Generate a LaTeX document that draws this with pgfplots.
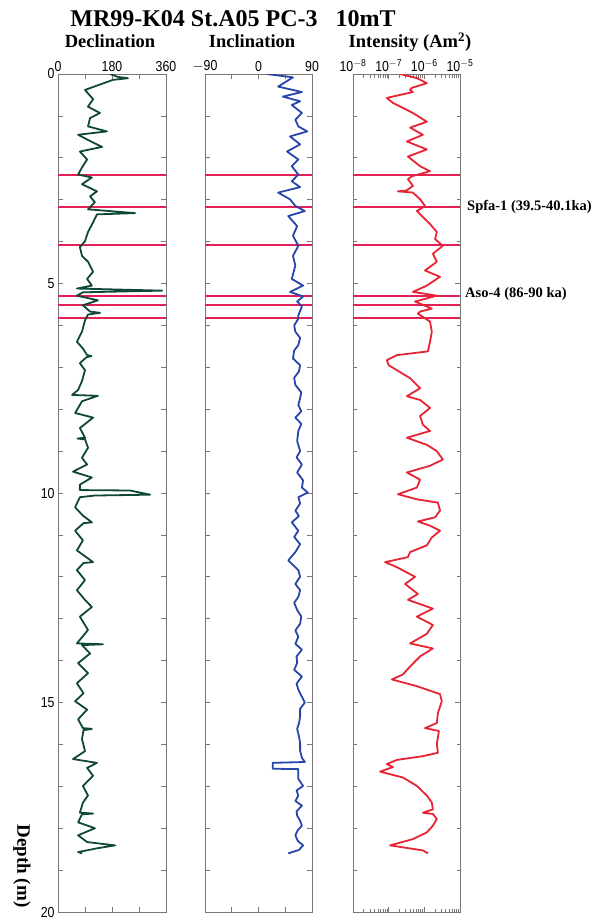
\documentclass[border=0pt]{standalone}
\usepackage{pgfplots}
\pgfplotsset{compat=1.18}
\usepackage{fontspec}
\setmainfont{Liberation Serif}
\newfontfamily\condsans[FakeStretch=0.85]{Liberation Sans}
\definecolor{decl}{RGB}{16,72,56}
\definecolor{incl}{RGB}{40,70,170}
\definecolor{inten}{RGB}{232,36,52}
\definecolor{tephra}{RGB}{228,32,84}
\definecolor{frame}{RGB}{120,120,120}

\pgfplotstableread{
d v
0.00 173
0.07 200
0.10 233
0.14 183
0.38 90
0.60 117
0.78 100
0.93 140
1.05 107
1.25 100
1.37 163
1.45 67
1.60 107
1.74 147
1.85 73
2.04 97
2.23 80
2.40 67
2.47 113
2.63 80
2.80 130
2.92 107
3.06 123
3.23 100
3.32 257
3.35 130
3.54 117
3.77 100
3.99 90
4.13 73
4.34 80
4.48 100
4.72 117
4.89 97
5.05 113
5.12 63
5.17 347
5.21 83
5.29 63
5.40 133
5.52 83
5.67 107
5.70 140
5.74 100
5.88 90
6.15 80
6.39 63
6.55 83
6.71 97
6.73 112
6.76 95
6.90 73
7.07 90
7.33 80
7.54 67
7.66 47
7.68 133
7.81 80
7.97 67
8.09 57
8.20 117
8.45 73
8.68 90
8.70 65
8.72 90
8.92 100
9.16 80
9.32 97
9.49 50
9.63 113
9.80 73
9.93 73
9.94 240
10.04 307
10.06 123
10.10 73
10.34 57
10.54 83
10.70 113
10.72 85
10.90 57
11.13 83
11.37 63
11.65 117
11.67 85
11.84 63
12.08 90
12.32 63
12.55 90
12.72 113
12.95 73
13.27 100
13.59 63
13.61 150
13.63 80
13.83 107
14.06 67
14.30 100
14.54 63
14.78 85
14.97 57
15.17 97
15.40 67
15.61 83
15.63 113
15.66 85
15.87 80
16.16 90
16.35 50
16.44 130
16.56 97
16.75 117
16.99 83
17.22 100
17.39 83
17.63 73
17.65 117
17.67 80
17.86 67
18.00 123
18.17 67
18.33 97
18.41 190
18.48 130
18.57 67
18.60 80
}\decltable

\pgfplotstableread{
d v
0.00 14
0.08 58
0.30 33
0.43 73
0.54 41
0.65 70
0.74 56
0.93 73
1.09 62
1.25 67
1.37 82
1.49 53
1.68 70
1.85 48
2.04 67
2.20 56
2.40 67
2.56 56
2.70 70
2.83 33
2.99 53
3.15 62
3.27 78
3.39 50
3.63 65
3.86 58
4.10 67
4.34 58
4.57 62
4.89 56
5.05 75
5.20 53
5.31 75
5.43 65
5.55 73
5.76 67
5.84 67
6.00 60
6.15 62
6.30 70
6.47 67
6.60 60
6.79 58
6.95 70
7.10 68
7.25 60
7.42 62
7.60 72
7.73 70
7.90 67
8.05 72
8.20 62
8.35 72
8.52 67
8.76 65
9.00 70
9.15 64
9.32 73
9.51 65
9.70 75
9.87 73
9.99 83
10.10 67
10.25 70
10.42 62
10.55 68
10.70 56
10.90 67
11.05 60
11.22 70
11.41 62
11.61 50
11.84 67
12.00 70
12.17 62
12.32 70
12.48 67
12.62 60
12.79 65
12.95 72
13.12 70
13.28 62
13.43 67
13.60 62
13.74 73
13.90 64
14.06 65
14.22 60
14.38 73
14.55 64
14.69 67
14.78 70
15.00 78
15.15 70
15.33 70
15.50 68
15.63 65
15.80 68
15.97 70
16.15 70
16.32 73
16.42 78
16.44 24
16.58 24
16.59 67
16.82 67
16.99 75
17.10 64
17.22 67
17.35 62
17.46 73
17.60 64
17.70 65
17.82 70
17.94 73
18.05 66
18.17 62
18.30 66
18.41 75
18.52 68
18.60 50
}\incltable

\pgfplotstableread{
d v
0.00 -6.68
0.10 -6.20
0.22 -5.93
0.33 -6.35
0.38 -6.40
0.43 -6.32
0.57 -7.05
0.69 -6.88
0.93 -6.32
1.14 -5.93
1.28 -6.40
1.45 -6.04
1.61 -6.49
1.80 -5.93
1.97 -6.46
2.20 -6.12
2.32 -5.84
2.44 -6.35
2.51 -6.46
2.67 -6.32
2.78 -6.50
2.80 -6.74
2.83 -6.32
2.99 -6.12
3.15 -5.98
3.27 -6.21
3.39 -6.07
3.58 -5.84
3.77 -5.65
3.94 -5.70
4.10 -5.48
4.29 -5.76
4.48 -5.65
4.69 -5.98
4.84 -5.56
5.05 -5.93
5.20 -6.32
5.29 -5.65
5.43 -6.26
5.60 -5.79
5.67 -6.12
5.72 -6.18
5.91 -5.84
6.15 -5.79
6.39 -5.84
6.62 -5.90
6.71 -6.77
6.83 -7.05
6.95 -7.00
7.26 -6.40
7.50 -6.12
7.69 -6.49
7.78 -6.12
7.97 -5.84
8.16 -6.12
8.37 -6.04
8.52 -5.84
8.68 -6.49
8.85 -5.93
9.00 -5.65
9.20 -5.48
9.35 -5.84
9.51 -6.49
9.68 -6.12
9.87 -6.21
10.03 -6.74
10.15 -6.21
10.23 -5.62
10.42 -5.56
10.58 -5.70
10.68 -6.18
10.78 -5.84
10.90 -5.56
11.06 -5.79
11.25 -5.93
11.41 -6.40
11.53 -6.46
11.65 -7.10
11.77 -6.77
12.00 -6.26
12.17 -6.54
12.41 -6.18
12.55 -6.46
12.76 -5.76
12.95 -6.21
13.15 -5.76
13.36 -5.93
13.59 -6.40
13.71 -5.76
13.90 -6.12
14.14 -6.40
14.33 -6.60
14.45 -6.91
14.61 -6.21
14.80 -5.56
14.97 -5.51
15.25 -5.62
15.49 -5.65
15.61 -5.98
15.68 -5.59
15.99 -5.65
16.20 -5.62
16.28 -6.04
16.37 -6.77
16.47 -7.05
16.54 -6.88
16.65 -7.24
16.79 -6.60
16.99 -6.21
17.22 -5.93
17.39 -5.79
17.55 -5.76
17.63 -6.04
17.66 -5.76
17.78 -5.65
17.94 -5.76
18.10 -5.93
18.26 -6.32
18.41 -6.96
18.53 -6.04
18.60 -5.90
}\intentable

\pgfplotsset{
  core/.style={
    scale only axis, height=838pt, ymin=0, ymax=20, y dir=reverse,
    axis line style={frame, line width=0.9pt},
    every tick/.style={frame, line width=0.8pt},
    major tick length=5pt, minor tick length=5pt,
    xtick pos=both, ytick pos=both, xticklabel pos=right,
    ytick={0,5,10,15,20},
    minor ytick={1,2,3,4,6,7,8,9,11,12,13,14,16,17,18,19},
    yticklabels={},
    tick label style={font=\condsans\fontsize{14.5}{14.5}\selectfont},
    xticklabel style={yshift=-1.5pt},
  },
  curve/.style={line width=1.8pt, line join=round, no marks},
}

\newcommand{\tephralines}[2]{%
  \addplot[tephra, line width=2pt, no marks] coordinates {(#1,2.42) (#2,2.42)};
  \addplot[tephra, line width=2pt, no marks] coordinates {(#1,3.17) (#2,3.17)};
  \addplot[tephra, line width=2pt, no marks] coordinates {(#1,4.07) (#2,4.07)};
  \addplot[tephra, line width=2pt, no marks] coordinates {(#1,5.31) (#2,5.31)};
  \addplot[tephra, line width=2pt, no marks] coordinates {(#1,5.52) (#2,5.52)};
  \addplot[tephra, line width=2pt, no marks] coordinates {(#1,5.82) (#2,5.82)};
}

\begin{document}
\begin{tikzpicture}[x=1pt,y=1pt]
\useasboundingbox (0,0) rectangle (605,922);

% Declination
\begin{axis}[core, at={(58pt,10pt)}, anchor=south west, width=108pt,
  xmin=0, xmax=360, xtick={0,180,360}, xticklabels={0,180,360},
  minor xtick={90,270},
  yticklabels={0,5,10,15,20}]
\tephralines{0}{360}
\addplot[curve, decl] table[x=v, y=d] {\decltable};
\end{axis}

% Inclination
\begin{axis}[core, at={(205pt,10pt)}, anchor=south west, width=107pt,
  xmin=-90, xmax=90, xtick={-90,0,90}, xticklabels={$-$90,0,90},
  minor xtick={-45,45}]
\tephralines{-90}{90}
\addplot[curve, incl] table[x=v, y=d] {\incltable};
\end{axis}

% Intensity (log10 of Am^2)
\begin{axis}[core, at={(353pt,10pt)}, anchor=south west, width=107pt,
  xmin=-8, xmax=-5, xtick={-8,-7,-6,-5},
  xticklabels={10\textsuperscript{$-$8},10\textsuperscript{$-$7},10\textsuperscript{$-$6},10\textsuperscript{$-$5}},
  minor xtick={-7.699,-7.523,-7.398,-7.301,-7.222,-7.155,-7.097,-7.046,
    -6.699,-6.523,-6.398,-6.301,-6.222,-6.155,-6.097,-6.046,
    -5.699,-5.523,-5.398,-5.301,-5.222,-5.155,-5.097,-5.046},
  minor tick length=3.5pt]
\tephralines{-8}{-5}
\addplot[curve, inten] table[x=v, y=d] {\intentable};
\end{axis}

% Titles
\node[anchor=base, inner sep=0pt, font=\bfseries\fontsize{24}{24}\selectfont] at (233,895)
  {MR99-K04 St.A05 PC-3\hspace{18pt}10mT};
\node[anchor=base, inner sep=0pt, font=\bfseries\fontsize{18.5}{18.5}\selectfont] at (110,874) {Declination};
\node[anchor=base, inner sep=0pt, font=\bfseries\fontsize{18.5}{18.5}\selectfont] at (252,874) {Inclination};
\node[anchor=base, inner sep=0pt, font=\bfseries\fontsize{18.5}{18.5}\selectfont] at (410,874) {Intensity (Am\textsuperscript{2})};

% Tephra labels
\node[anchor=west, inner sep=0pt, font=\bfseries\fontsize{14.5}{14.5}\selectfont] at (467,715) {Spfa-1 (39.5-40.1ka)};
\node[anchor=west, inner sep=0pt, font=\bfseries\fontsize{14.5}{14.5}\selectfont] at (465,628) {Aso-4 (86-90 ka)};

% Depth label
\node[rotate=-90, inner sep=0pt, font=\bfseries\fontsize{19}{19}\selectfont] at (22,56) {Depth (m)};
\end{tikzpicture}
\end{document}
